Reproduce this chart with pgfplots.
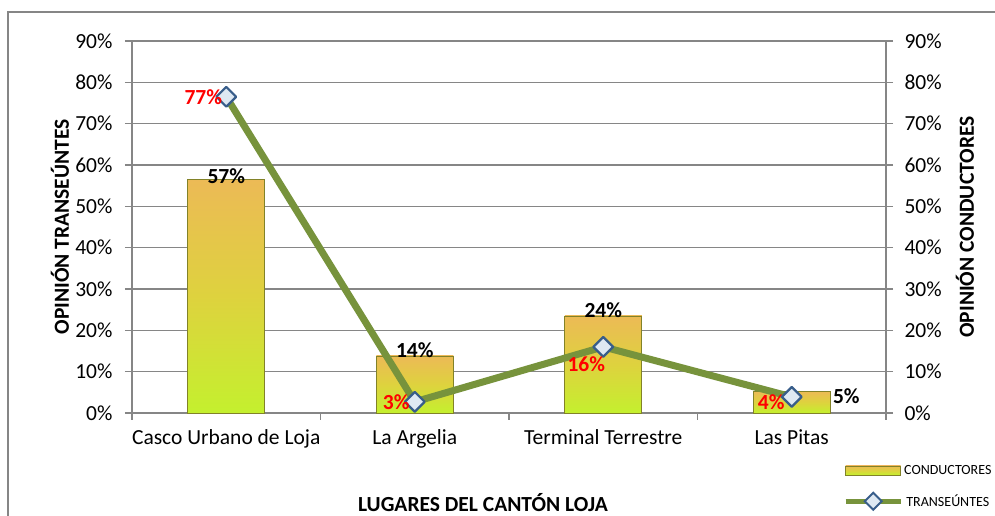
\documentclass[border=0pt]{standalone}
\usepackage{fontspec}
\setmainfont{Carlito}
\usepackage{pgfplots}
\pgfplotsset{compat=1.18}
\definecolor{gridgray}{RGB}{134,134,134}
\definecolor{lineolive}{RGB}{119,147,60}
\definecolor{mkedge}{RGB}{56,93,138}
\definecolor{mkfill}{RGB}{222,232,242}
\definecolor{bartop}{RGB}{236,186,86}
\definecolor{barmid}{RGB}{222,210,62}
\definecolor{barbot}{RGB}{196,240,46}
\definecolor{baredge}{RGB}{130,130,40}

\tikzset{barsty/.style={ybar, bar width=77pt, bar shift=0pt,
  draw=baredge, line width=0.6pt,
  top color=bartop, bottom color=barbot, middle color=barmid}}
\pgfplotsset{
  barleg/.style={legend image code/.code={\draw[##1] (0pt,-4.5pt) rectangle (55pt,4.5pt);}},
  lineleg/.style={legend image code/.code={\draw[mark repeat=2,mark phase=2,##1] plot coordinates {(0pt,0pt)(27.5pt,0pt)(55pt,0pt)};}},
  redlab/.style={draw=none, mark=none, forget plot, nodes near coords={#1},
    every node near coord/.append style={font=\ticfont\bfseries, text=red, inner sep=0pt}},
}
\newcommand{\ticfont}{\fontsize{21.5}{24}\selectfont}
\newcommand{\labfont}{\fontsize{21.5}{24}\selectfont\bfseries}

\begin{document}
\begin{tikzpicture}
\useasboundingbox (0,0) rectangle (995pt,516pt);
\draw[gridgray, line width=1.3pt] (8pt,0) -- (8pt,504pt) -- (995pt,504pt);
\begin{axis}[
  at={(132pt,103pt)}, anchor=south west,
  scale only axis, width=754pt, height=372pt,
  xmin=-0.5, xmax=3.5, ymin=0, ymax=90,
  clip=false,
  axis y line*=left, axis x line*=bottom,
  axis line style={gridgray, line width=1.3pt, -},
  xtick={-0.5,0.5,1.5,2.5,3.5}, xticklabels={},
  extra x ticks={0,1,2,3},
  extra x tick labels={Casco Urbano de Loja, La Argelia, Terminal Terrestre, Las Pitas},
  extra x tick style={major tick length=0pt, grid=none},
  ytick={0,10,...,90},
  yticklabels={0\%,10\%,20\%,30\%,40\%,50\%,60\%,70\%,80\%,90\%},
  ymajorgrids, grid style={gridgray, line width=1.3pt},
  tick style={gridgray, line width=1.3pt},
  major tick length=7pt, tick align=outside,
  tick label style={font=\ticfont, text=black},
  yticklabel style={xshift=-9pt},
  xticklabel style={yshift=-13pt},
  ylabel={OPINIÓN TRANSEÚNTES},
  ylabel style={at={(axis description cs:-0.0955,0.5)}, anchor=center, font=\labfont},
  xlabel={LUGARES DEL CANTÓN LOJA},
  xlabel style={at={(axis description cs:0.4655,-0.242)}, anchor=center, font=\labfont},
  legend style={at={(rel axis cs:0.943,-0.137)}, anchor=north west, draw=none, fill=none,
    font=\fontsize{14}{16}\selectfont, row sep=16pt, inner sep=0pt,
    nodes={inner sep=1pt}},
  nodes near coords style={font=\ticfont\bfseries, text=black, inner sep=0pt},
]
\addplot[barsty, barleg,
  nodes near coords={57\%}, every node near coord/.append style={anchor=base, yshift=-4pt}]
  coordinates {(0,56.6)};
\addlegendentry{CONDUCTORES}
\addplot[barsty, forget plot,
  nodes near coords={14\%}, every node near coord/.append style={anchor=base, yshift=-2pt}]
  coordinates {(1,13.8)};
\addplot[barsty, forget plot,
  nodes near coords={24\%}, every node near coord/.append style={anchor=base, yshift=-2pt}]
  coordinates {(2,23.5)};
\addplot[barsty, forget plot,
  nodes near coords={5\%}, every node near coord/.append style={anchor=base west, xshift=41pt, yshift=-12pt}]
  coordinates {(3,5.3)};
\addlegendimage{lineolive, line width=5pt, mark=square*, mark size=6pt,
  mark options={rotate=45, fill=mkfill, draw=mkedge, line width=2pt}, lineleg}
\addlegendentry{TRANSEÚNTES}
\end{axis}
\begin{axis}[
  at={(132pt,103pt)}, anchor=south west,
  scale only axis, width=754pt, height=372pt,
  xmin=-0.5, xmax=3.5, ymin=0, ymax=90,
  clip=false,
  axis y line*=right, axis x line=none,
  axis line style={gridgray, line width=1.3pt, -},
  ytick={0,10,...,90},
  yticklabels={0\%,10\%,20\%,30\%,40\%,50\%,60\%,70\%,80\%,90\%},
  tick style={gridgray, line width=1.3pt},
  major tick length=7pt, tick align=outside,
  tick label style={font=\ticfont, text=black},
  yticklabel style={xshift=8pt},
  ylabel={OPINIÓN CONDUCTORES},
  ylabel style={at={(axis description cs:1.1048,0.5)}, anchor=center, rotate=0, font=\labfont},
]
\addplot[lineolive, line width=7pt, line join=round,
  mark=square*, mark size=7pt,
  mark options={rotate=45, fill=mkfill, draw=mkedge, line width=2.2pt}]
  coordinates {(0,76.5) (1,2.7) (2,16.0) (3,3.9)};
\addplot[redlab={77\%}, every node near coord/.append style={anchor=east, xshift=-4pt}]
  coordinates {(0,76.5)};
\addplot[redlab={3\%}, every node near coord/.append style={anchor=east, xshift=-5pt}]
  coordinates {(1,2.7)};
\addplot[redlab={16\%}, every node near coord/.append style={anchor=east, xshift=2pt, yshift=-17pt}]
  coordinates {(2,16.0)};
\addplot[redlab={4\%}, every node near coord/.append style={anchor=east, xshift=-7pt, yshift=-5pt}]
  coordinates {(3,3.9)};
\end{axis}
\end{tikzpicture}
\end{document}
